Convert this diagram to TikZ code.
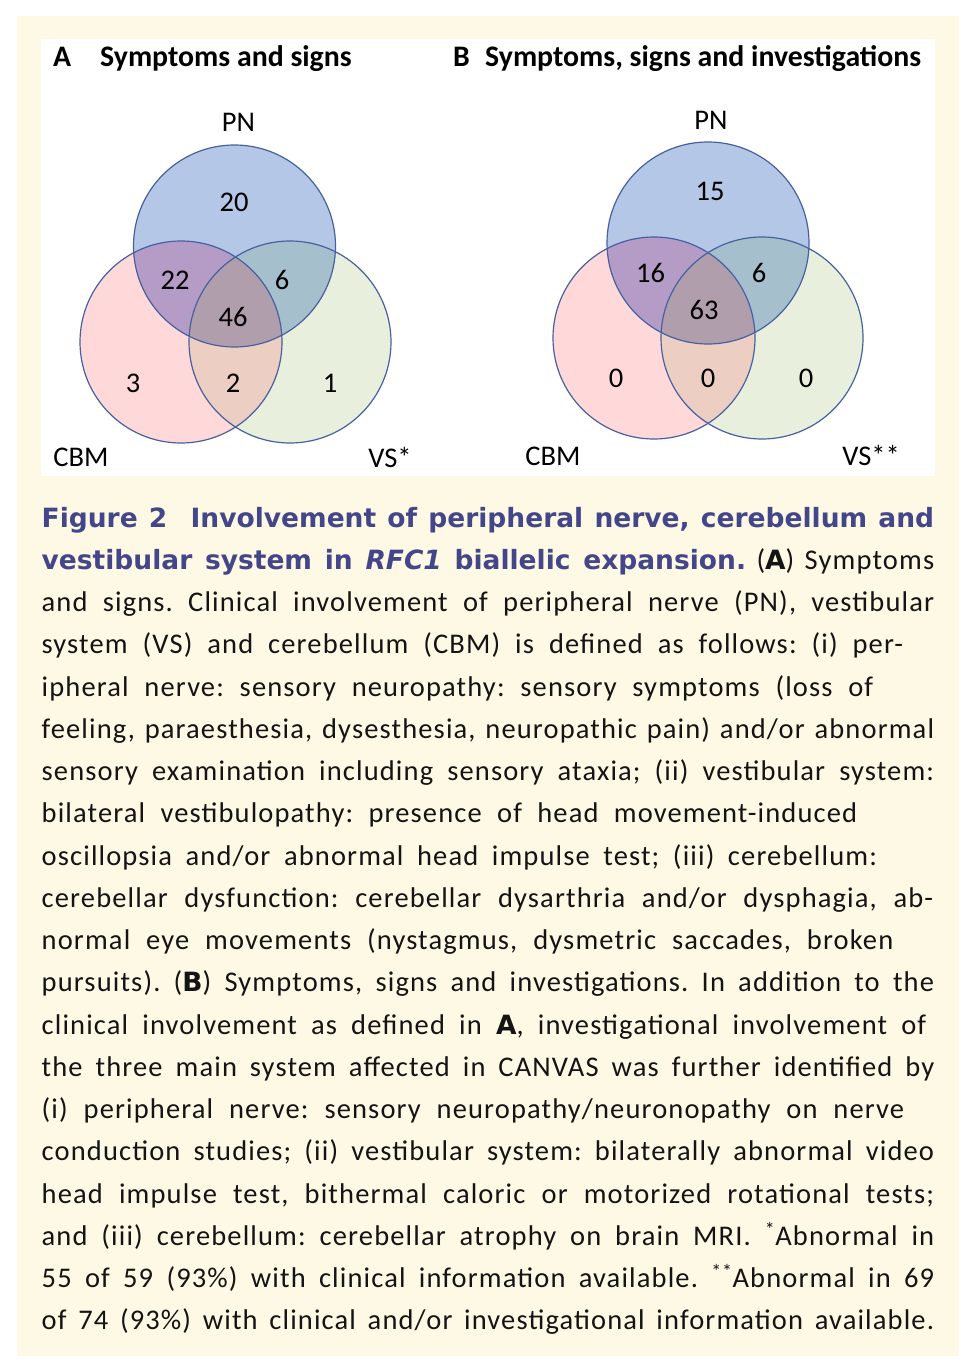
\documentclass[tikz,border=0pt]{standalone}
\usepackage{fontspec}
\setmainfont{Carlito}
\newfontfamily\capfont[LetterSpace=4]{Carlito}
\newfontfamily\capheadfont{DejaVu Sans}
\usetikzlibrary{positioning}

\definecolor{cream}{RGB}{254,249,228}
\definecolor{capblue}{RGB}{68,70,138}
\definecolor{vennline}{RGB}{70,96,160}
\definecolor{pnfill}{RGB}{180,199,231}
\definecolor{cbmfill}{RGB}{255,217,218}
\definecolor{vsfill}{RGB}{232,240,221}
\definecolor{pncbm}{RGB}{180,156,198}
\definecolor{pnvs}{RGB}{166,191,204}
\definecolor{cbmvs}{RGB}{236,206,194}
\definecolor{pncbmvs}{RGB}{176,158,172}

\newcommand\tb[1]{{\capheadfont\bfseries\fontsize{26.5}{30}\selectfont #1}}
\newcommand\ttl{\color{capblue}\capheadfont\bfseries\fontsize{26.5}{30}\selectfont}

\begin{document}
\frenchspacing
\begin{tikzpicture}[x=1pt, y=-1pt,
    head/.style={font=\bfseries\fontsize{29.8}{32}\selectfont, anchor=base west, inner sep=0pt},
    setlab/.style={font=\fontsize{28.5}{30}\selectfont, inner sep=0pt},
    num/.style={font=\fontsize{28.5}{30}\selectfont, inner sep=0pt},
    ring/.style={draw=vennline, line width=1.2pt},
    capline/.style={font=\capfont\fontsize{28.5}{30}\selectfont, anchor=base west, inner sep=0pt, text=black!92}]

    \useasboundingbox (0,0) rectangle (978,1372);
    \fill[white] (0,0) rectangle (978,1372);
    \fill[cream] (17,16) rectangle (959,1356);
    \fill[white] (41,39) rectangle (935,476);

    % circle centres of the two panels
    \coordinate (pnA) at (234.5,246);
    \coordinate (cbmA) at (181,342);
    \coordinate (vsA) at (290,342);
    \coordinate (pnB) at (708,243);
    \coordinate (cbmB) at (654,338);
    \coordinate (vsB) at (762,338);

    \foreach \p in {A,B} {
        \fill[cbmfill] (cbm\p) circle (101pt);
        \fill[vsfill] (vs\p) circle (101pt);
        \fill[pnfill] (pn\p) circle (101pt);
        \begin{scope}
            \clip (pn\p) circle (101pt);
            \fill[pncbm] (cbm\p) circle (101pt);
            \fill[pnvs] (vs\p) circle (101pt);
        \end{scope}
        \begin{scope}
            \clip (cbm\p) circle (101pt);
            \fill[cbmvs] (vs\p) circle (101pt);
            \clip (vs\p) circle (101pt);
            \fill[pncbmvs] (pn\p) circle (101pt);
        \end{scope}
        \foreach \c in {pn,cbm,vs} \draw[ring] (\c\p) circle (101pt);
    }

    % panel titles
    \node[head] (titA) at (53,67) {A};
    \node[head] (headA) at (100,67) {Symptoms and signs};
    \node[head] (titB) at (453,67) {B};
    \node[head] (headB) at (485,67) {Symptoms, signs and investigations};

    % set labels
    \node[setlab] (labpnA) at (238.5,122.5) {PN};
    \node[setlab] (labcbmA) at (81,457) {CBM};
    \node[setlab] (labvsA) at (390,457) {VS*};
    \node[setlab] (labpnB) at (711,120.5) {PN};
    \node[setlab] (labcbmB) at (553,456) {CBM};
    \node[setlab] (labvsB) at (871,455) {VS**};

    % counts
    \node[num] (nA1) at (234,202) {20};
    \node[num] (nA2) at (175,280) {22};
    \node[num] (nA3) at (282,280) {6};
    \node[num] (nA4) at (233,316.5) {46};
    \node[num] (nA5) at (133,383) {3};
    \node[num] (nA6) at (233,383) {2};
    \node[num] (nA7) at (330,383) {1};
    \node[num] (nB1) at (710,191.5) {15};
    \node[num] (nB2) at (650.5,273) {16};
    \node[num] (nB3) at (759,273) {6};
    \node[num] (nB4) at (704,310) {63};
    \node[num] (nB5) at (616,378) {0};
    \node[num] (nB6) at (708,378) {0};
    \node[num] (nB7) at (806,378) {0};

    % caption, one line each
    \foreach \lw/\words [count=\i] in {
        892.5/{\ttl Figure 2\hspace{12pt} Involvement of peripheral nerve, cerebellum and},
        892.5/{{\ttl vestibular system in \textit{RFC1} biallelic expansion.} (\tb{A}) Symptoms},
        892.5/{and signs. Clinical involvement of peripheral nerve (PN), vestibular},
        861.5/{system (VS) and cerebellum (CBM) is defined as follows: (i) per-},
        831.5/{ipheral nerve: sensory neuropathy: sensory symptoms (loss of},
        892.5/{feeling, paraesthesia, dysesthesia, neuropathic pain) and/or abnormal},
        892.5/{sensory examination including sensory ataxia; (ii) vestibular system:},
        815.5/{bilateral vestibulopathy: presence of head movement-induced},
        835.5/{oscillopsia and/or abnormal head impulse test; (iii) cerebellum:},
        891.5/{cerebellar dysfunction: cerebellar dysarthria and/or dysphagia, ab-},
        851.5/{normal eye movements (nystagmus, dysmetric saccades, broken},
        892.5/{pursuits). (\tb{B}) Symptoms, signs and investigations. In addition to the},
        884.5/{clinical involvement as defined in \tb{A}, investigational involvement of},
        892.5/{the three main system affected in CANVAS was further identified by},
        862.5/{(i) peripheral nerve: sensory neuropathy/neuronopathy on nerve},
        892.5/{conduction studies; (ii) vestibular system: bilaterally abnormal video},
        892.5/{head impulse test, bithermal caloric or motorized rotational tests;},
        892.5/{and (iii) cerebellum: cerebellar atrophy on brain MRI. \textsuperscript{*}Abnormal in},
        892.5/{55 of 59 (93\%) with clinical information available. \textsuperscript{**}Abnormal in 69},
        892.5/{of 74 (93\%) with clinical and/or investigational information available.}}
        \node[capline] (cap\i) at (41.5,{527+42.26*(\i-1)}) {\hbox to \lw pt{\words}};

\end{tikzpicture}
\end{document}
